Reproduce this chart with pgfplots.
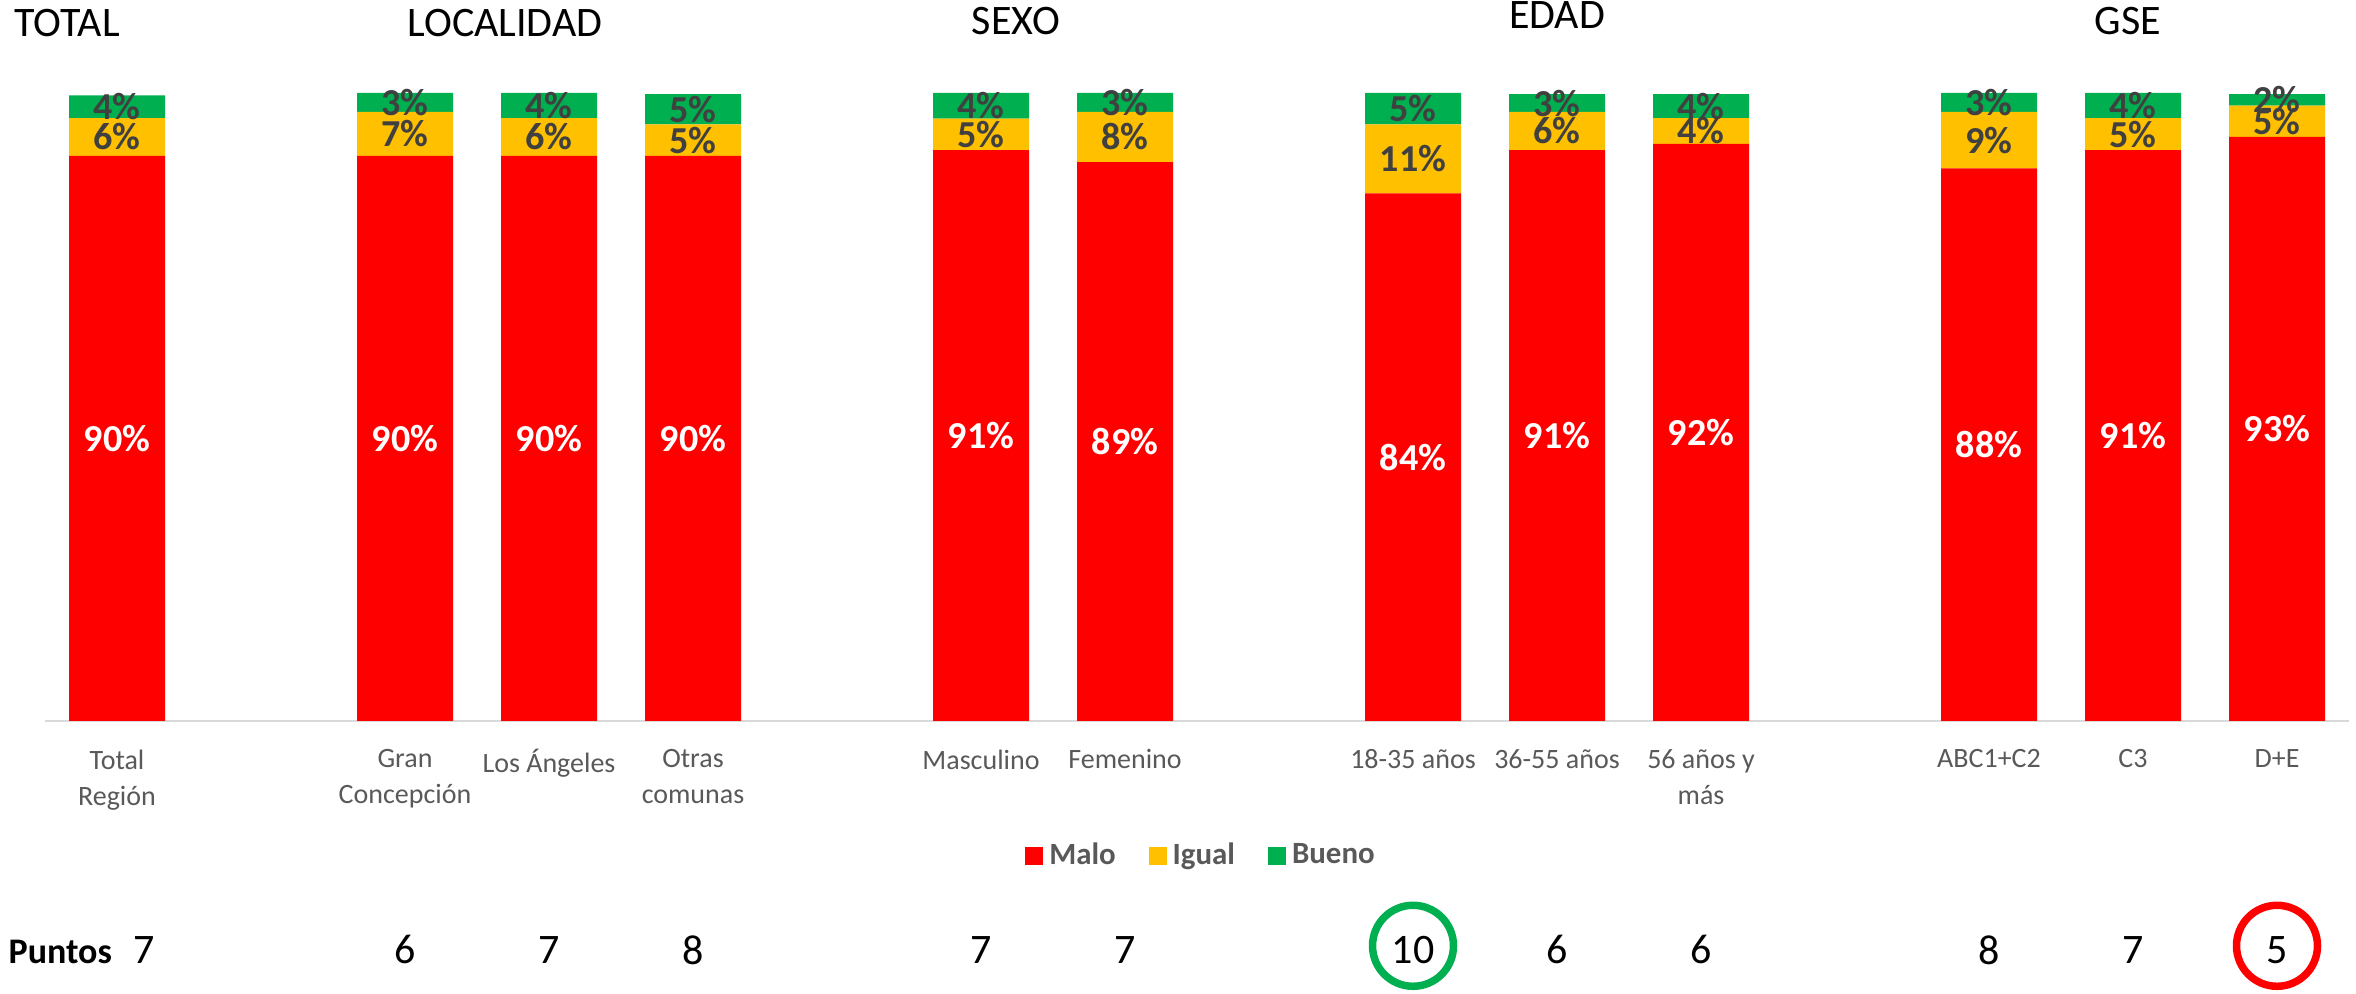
\documentclass[border=0pt]{standalone}
\usepackage{pgfplots}
\pgfplotsset{compat=1.18}
\usepackage{pgfplotstable}
\usepackage{fontspec}
\setmainfont{Carlito}

\definecolor{malo}{HTML}{FF0000}
\definecolor{igual}{HTML}{FFC000}
\definecolor{bueno}{HTML}{00B050}
\definecolor{txtgris}{HTML}{595959}
\definecolor{lblgris}{HTML}{404040}
\definecolor{ejegris}{HTML}{D9D9D9}

% x = posicion de la barra (huecos entre grupos)
\pgfplotstableread{
x  malo igual bueno
0  90.0 6.0 3.6
2  90.0 7.0 3.0
3  90.0 6.0 4.0
4  90.0 5.0 4.8
6  90.9 5.0 4.1
7  89.0 8.0 3.0
9  84.0 11.0 5.0
10 90.9 6.1 2.8
11 91.9 4.1 3.8
13 88.0 9.0 3.0
14 90.9 5.1 4.0
15 93.0 5.0 1.8
}\datos

\pgfplotstableread{
x    pts
0.19 7
2    6
3    7
4    8
6    7
7    7
9    10
10   6
11   6
13   8
14   7
15   5
}\puntos

\pgfplotsset{
    pct/.style={draw=none, mark=none, point meta=explicit,
        nodes near coords={\pgfmathprintnumber[fixed,precision=0,assume math mode=true]{\pgfplotspointmeta}\%},
        nodes near coords style={anchor=center, text=#1, font=\fontsize{12.7}{14}\selectfont\bfseries}},
}

\begin{document}
\begin{tikzpicture}
\path[use as bounding box] (0,0) rectangle (785.33pt,331.33pt);

\begin{axis}[
    at={(15pt,91pt)}, anchor=south west,
    scale only axis, width=768pt, height=209.33pt,
    xmin=-0.5, xmax=15.5, ymin=0, ymax=100,
    ybar stacked, bar width=32pt,
    axis y line=none, axis x line*=bottom,
    x axis line style={draw=ejegris, line width=0.7pt, -},
    xtick={0,2,3,4,6,7,9,10,11,13,14,15},
    xticklabels={{Total\\Región},{Gran\\Concepción},{Los Ángeles},{Otras\\comunas},Masculino,Femenino,{18-35 años},{36-55 años},{56 años y\\más},ABC1+C2,C3,D+E},
    xticklabel style={align=center, font=\fontsize{9.33}{12}\selectfont, text=txtgris, yshift=-6pt},
    major tick length=0pt,
    legend columns=3,
    legend style={at={(0.5026,-0.215)}, anchor=center, draw=none, fill=none,
        font=\fontsize{10.3}{12}\selectfont\bfseries, text=txtgris,
        /tikz/every even column/.append style={column sep=9pt}},
    legend image code/.code={\fill[#1] (0pt,-3pt) rectangle (6pt,3pt);},
]
\addplot[fill=malo, draw=none] table[x=x, y=malo]{\datos};
\addlegendentry{Malo}
\addplot[fill=igual, draw=none] table[x=x, y=igual]{\datos};
\addlegendentry{Igual}
\addplot[fill=bueno, draw=none] table[x=x, y=bueno]{\datos};
\addlegendentry{Bueno}
\end{axis}

% etiquetas de porcentaje y fila de puntos
\begin{axis}[
    at={(15pt,91pt)}, anchor=south west,
    scale only axis, width=768pt, height=209.33pt,
    xmin=-0.5, xmax=15.5, ymin=0, ymax=100,
    hide axis, clip=false,
]
\addplot[pct=white] table[x=x, y expr=\thisrow{malo}/2, meta=malo]{\datos};
\addplot[pct=lblgris] table[x=x, y expr=\thisrow{malo}+\thisrow{igual}/2, meta=igual]{\datos};
\addplot[pct=lblgris] table[x=x, y expr=\thisrow{malo}+\thisrow{igual}+\thisrow{bueno}/2, meta=bueno]{\datos};
\addplot[draw=none, mark=none, point meta=explicit symbolic,
    nodes near coords={\pgfplotspointmeta},
    nodes near coords style={anchor=center, text=black, font=\fontsize{14}{16}\selectfont}]
    table[x=x, y expr=-36.46, meta=pts]{\puntos};
\addplot[only marks, mark=o, mark size=13.5pt, mark options={draw=bueno, line width=2.5pt}]
    coordinates {(9,-35.8)};
\addplot[only marks, mark=o, mark size=13.5pt, mark options={draw=malo, line width=2.5pt}]
    coordinates {(15,-35.8)};
\end{axis}

\begin{scope}[every node/.style={inner sep=0pt, font=\fontsize{14}{16}\selectfont}]
\node[anchor=base west] at (4.67pt,319pt) {TOTAL};
\node[anchor=base] at (168.3pt,319pt) {LOCALIDAD};
\node[anchor=base] at (338.7pt,319.7pt) {SEXO};
\node[anchor=base] at (519pt,321.7pt) {EDAD};
\node[anchor=base] at (709.3pt,319.7pt) {GSE};
\node[anchor=base west, font=\fontsize{12}{14}\selectfont\bfseries] at (2.67pt,10.3pt) {Puntos};
\end{scope}
\end{tikzpicture}
\end{document}
